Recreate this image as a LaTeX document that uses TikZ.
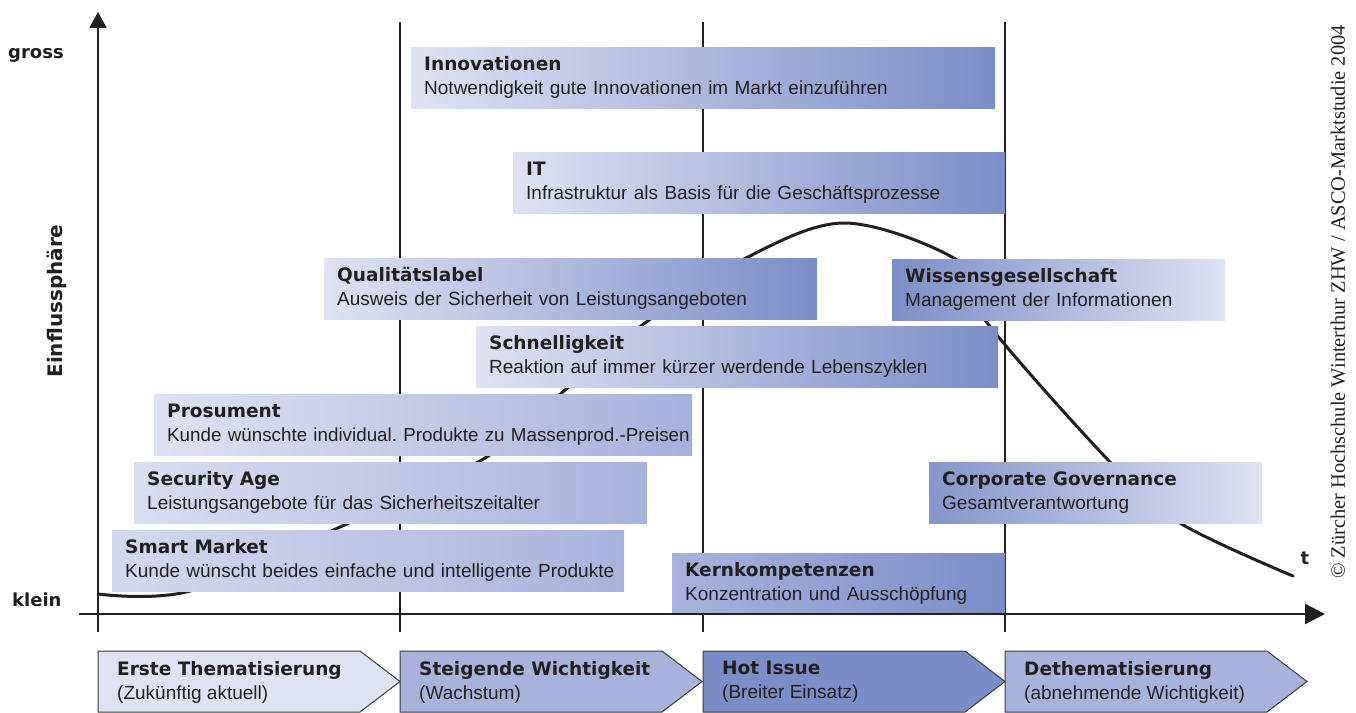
\documentclass[tikz,border=0pt]{standalone}
\usepackage{fontspec}
\setmainfont{Liberation Sans}
\newfontfamily\headfont{DejaVu Sans}
\newfontfamily\notefont{Liberation Serif}
\usetikzlibrary{arrows.meta}

\definecolor{lite}{HTML}{DFE2F3}
\definecolor{mid}{HTML}{A8B3DC}
\definecolor{deep}{HTML}{7A8DC6}
\definecolor{ink}{HTML}{231F20}
\definecolor{rim}{HTML}{3C3C3C}

\frenchspacing
\newcommand{\ttl}[1]{{\headfont\bfseries\fontsize{18.5}{21}\selectfont #1}}

\tikzset{
  topic/.style={anchor=north west, rectangle, inner xsep=13pt, inner ysep=0pt,
    minimum height=61pt, align=left, text=ink,
    font=\fontsize{19}{24}\selectfont},
  phase/.style={draw=rim, line width=1pt},
  phasetext/.style={anchor=west, align=left, text=ink, inner sep=0pt,
    font=\fontsize{19}{24}\selectfont},
  divider/.style={line width=1.5pt, draw=ink},
  axis/.style={line width=2.5pt, draw=ink},
  side/.style={text=ink, inner sep=0pt, font=\headfont\bfseries\fontsize{18}{21}\selectfont},
}

\begin{document}
\begin{tikzpicture}[x=1pt, y=-1pt]
    \useasboundingbox (0,0) rectangle (1356,712);

    % phase dividers
    \foreach \x in {400,703,1005}
        \draw[divider] (\x,22) -- (\x,632);

    % life cycle curve
    \draw[line width=3pt, ink, line cap=round] plot[smooth, tension=0.55] coordinates {
        (98,594) (190,591) (340,527) (485,458) (565,390) (645,323) (742,260)
        (845,223) (960,262) (985,320) (1110,462) (1180,523) (1293,576)};

    % topics
    \node[topic, text width=558pt, left color=lite, right color=deep] (innov) at (411,47)
        {\ttl{Innovationen}\\\mbox{Notwendigkeit gute Innovationen im Markt einzuführen}};
    \node[topic, text width=466pt, left color=lite, right color=deep] (it) at (513,152)
        {\ttl{IT}\\\mbox{Infrastruktur als Basis für die Geschäftsprozesse}};
    \node[topic, text width=467pt, left color=lite, right color=deep] (qual) at (324,258)
        {\ttl{Qualitätslabel}\\\mbox{Ausweis der Sicherheit von Leistungsangeboten}};
    \node[topic, text width=307pt, left color=deep, right color=lite] (wissen) at (892,259)
        {\ttl{Wissensgesellschaft}\\\mbox{Management der Informationen}};
    \node[topic, text width=496pt, left color=lite, right color=deep] (schnell) at (476,326)
        {\ttl{Schnelligkeit}\\\mbox{Reaktion auf immer kürzer werdende Lebenszyklen}};
    \node[topic, text width=512pt, left color=lite, right color=mid!95!deep,
          font=\fontsize{18.8}{24}\selectfont] (prosum) at (154,394)
        {\ttl{Prosument}\\\mbox{Kunde wünschte individual. Produkte zu Massenprod.-Preisen}};
    \node[topic, text width=487pt, left color=lite!90!mid, right color=mid] (secur) at (134,462)
        {\ttl{Security Age}\\\mbox{Leistungsangebote für das Sicherheitszeitalter}};
    \node[topic, text width=307pt, left color=deep!90!lite, right color=lite] (corpgov) at (929,462)
        {\ttl{Corporate Governance}\\\mbox{Gesamtverantwortung}};
    \node[topic, text width=486pt, left color=lite!80!mid, right color=mid] (smart) at (112,530)
        {\ttl{Smart Market}\\\mbox{Kunde wünscht beides einfache und intelligente Produkte}};
    \node[topic, text width=307pt, left color=mid, right color=deep] (kern) at (672,553)
        {\ttl{Kernkompetenzen}\\\mbox{Konzentration und Ausschöpfung}};

    % axes
    \draw[axis, -{Triangle[length=16pt, width=17pt]}] (98,632) -- (98,12);
    \draw[axis, -{Triangle[length=20pt, width=20pt]}] (79,614) -- (1325,614);

    % phases
    \draw[phase, fill=lite] (98,651) -- ++(262,0) -- ++(40,30.5) -- ++(-40,30.5) -- ++(-262,0) -- cycle;
    \draw[phase, fill=mid] (400,651) -- ++(262,0) -- ++(40,30.5) -- ++(-40,30.5) -- ++(-262,0) -- cycle;
    \draw[phase, fill=deep] (703,651) -- ++(262,0) -- ++(40,30.5) -- ++(-40,30.5) -- ++(-262,0) -- cycle;
    \draw[phase, fill=mid] (1005,651) -- ++(262,0) -- ++(40,30.5) -- ++(-40,30.5) -- ++(-262,0) -- cycle;
    \node[phasetext] (ph1) at (117,682) {\ttl{Erste Thematisierung}\\(Zukünftig aktuell)};
    \node[phasetext] (ph2) at (419,682) {\ttl{Steigende Wichtigkeit}\\(Wachstum)};
    \node[phasetext] (ph3) at (722,682) {\ttl{Hot Issue}\\(Breiter Einsatz)};
    \node[phasetext] (ph4) at (1024,682) {\ttl{Dethematisierung}\\(abnehmende Wichtigkeit)};

    % axis labels
    \node[side, anchor=west] (gross) at (8,55) {gross};
    \node[side, anchor=west] (klein) at (12,600) {klein};
    \node[side, rotate=90, font=\headfont\bfseries\fontsize{20}{23}\selectfont] (einfl) at (57,301) {Einflussphäre};
    \node[side] (t) at (1305,558) {t};
    \node[rotate=90, text=ink, inner sep=0pt, font=\notefont\fontsize{20.4}{23}\selectfont] (note)
        at (1338,302) {© Zürcher Hochschule Winterthur ZHW / ASCO-Marktstudie 2004};
\end{tikzpicture}
\end{document}
